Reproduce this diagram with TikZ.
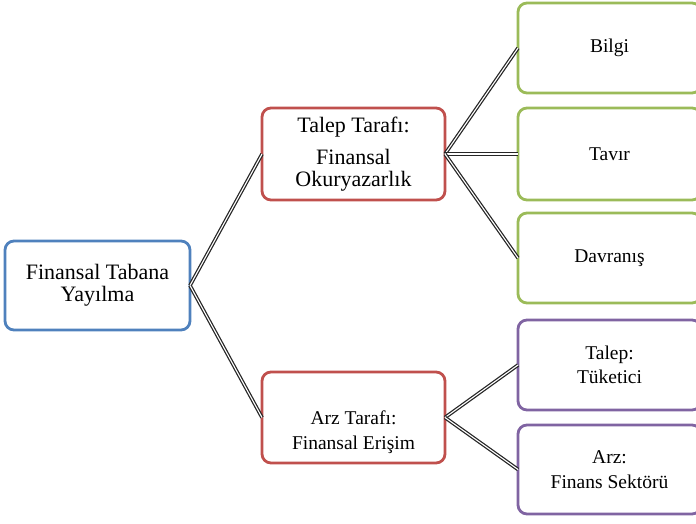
\documentclass[tikz,border=0pt]{standalone}
\usepackage{fontspec}
\setmainfont{Liberation Serif}
\usepackage{xcolor}
\definecolor{rootblue}{HTML}{4F81BD}
\definecolor{sidered}{HTML}{C0504D}
\definecolor{leafgreen}{HTML}{9BBB59}
\definecolor{leafpurple}{HTML}{8064A2}
\tikzset{
  box/.style={
    draw,
    line width=2.8pt,
    rounded corners=9pt,
    fill=white,
    align=center,
    inner sep=2pt,
    outer sep=0pt,
    minimum width=183pt
  },
  rootbox/.style={
    box,
    draw=rootblue,
    minimum width=185pt,
    minimum height=89pt,
    font=\fontsize{22}{22}\selectfont
  },
  side/.style={
    box,
    draw=sidered,
    minimum height=91pt
  },
  leafg/.style={
    box,
    draw=leafgreen,
    minimum height=91pt,
    font=\fontsize{19.5}{25}\selectfont
  },
  leafp/.style={
    box,
    draw=leafpurple,
    minimum height=90pt,
    font=\fontsize{19.5}{24.5}\selectfont
  },
  link/.style={draw=black!85, line width=1.25pt, double=white, double distance=1.1pt}
}

\begin{document}
\begin{tikzpicture}[x=1pt, y=-1pt]
  \useasboundingbox (0,0) rectangle (696,524);
  \clip (0,0) rectangle (696,524);

  \node[rootbox] (root) at (97.5,285.5) {Finansal Tabana\\Yayılma};

  \node[side, minimum height=92pt, font=\fontsize{22}{22}\selectfont] (talep) at (353.5,154)
    {Talep Tarafı:\\[10pt]Finansal\\Okuryazarlık};
  \node[side, font=\fontsize{19.5}{25}\selectfont] (arz) at (353.5,417.5)
    {\mbox{}\\[18pt]Arz Tarafı:\\Finansal Erişim};

  \node[leafg, minimum height=90pt] (bilgi) at (609.5,48) {Bilgi};
  \node[leafg, minimum height=92pt] (tavir) at (609.5,154) {Tavır};
  \node[leafg, minimum height=90pt] (davranis) at (609.5,258) {Davranış};

  \node[leafp] (tuketici) at (609.5,365) {Talep:\\Tüketici};
  \node[leafp, minimum height=89pt] (sektor) at (609.5,469.5) {Arz:\\Finans Sektörü};

  \draw[link] (root.east) -- (talep.west);
  \draw[link] (root.east) -- (arz.west);

  \draw[link] (talep.east) -- (bilgi.west);
  \draw[link] (talep.east) -- (tavir.west);
  \draw[link] (talep.east) -- (davranis.west);

  \draw[link] (arz.east) -- (tuketici.west);
  \draw[link] (arz.east) -- (sektor.west);
\end{tikzpicture}
\end{document}
